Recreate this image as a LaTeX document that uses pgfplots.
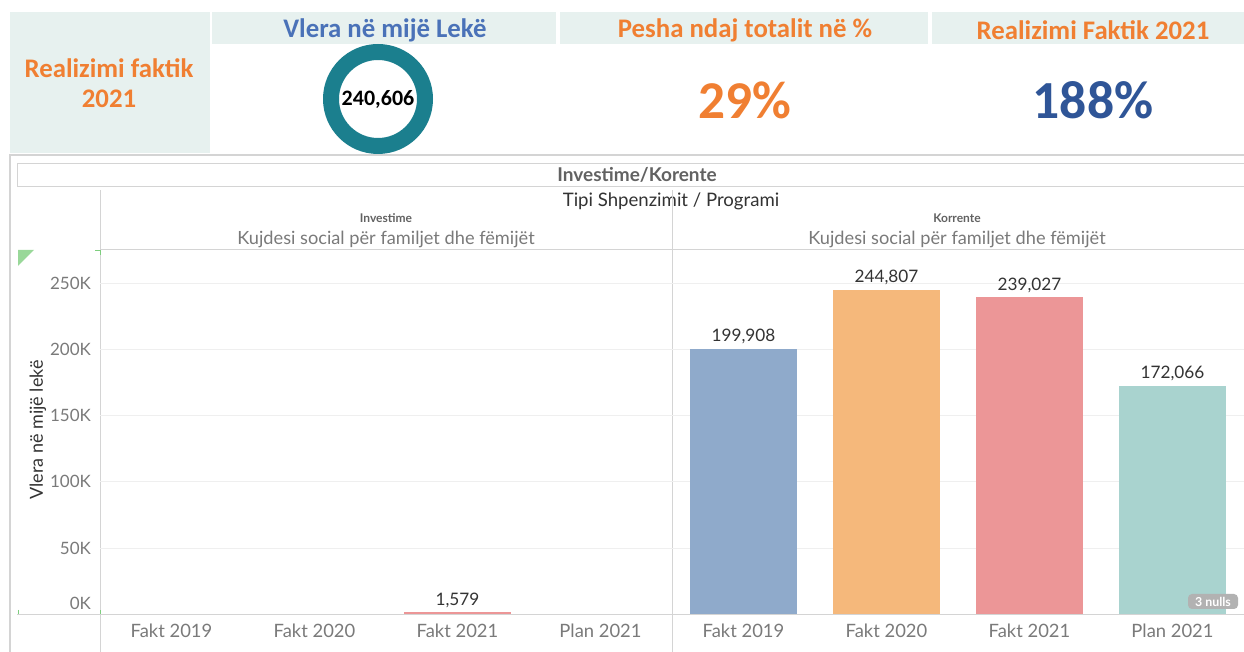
\documentclass[border=0pt]{standalone}
\usepackage{pgfplots}
\pgfplotsset{compat=1.18}
\usepackage{fontspec}
\setmainfont{Lato}
\newfontfamily\hd{Carlito}
\definecolor{mint}{HTML}{E7F1EF}
\definecolor{orng}{HTML}{F07F32}
\definecolor{hblue}{HTML}{4A72B8}
\definecolor{dblue}{HTML}{2F5597}
\definecolor{donut}{HTML}{1B7F8E}
\definecolor{b1}{HTML}{8FAACB}
\definecolor{b2}{HTML}{F5B87B}
\definecolor{b3}{HTML}{EC9697}
\definecolor{b4}{HTML}{A9D3CF}
\definecolor{tk}{HTML}{7A7A7A}
\definecolor{lab}{HTML}{333333}
\definecolor{grd}{HTML}{EFEFEF}
\definecolor{lin}{HTML}{D4D4D4}
\begin{document}
\begin{tikzpicture}[x=0.5pt,y=0.5pt]
\path[use as bounding box, fill=white] (0,0) rectangle (1244,652);
% ---- top KPI panel
\fill[mint] (10,499) rectangle (210,640);
\fill[mint] (212,608) rectangle (556,640);
\fill[mint] (560,608) rectangle (928,640);
\fill[mint] (932,608) rectangle (1244,640);
\node[font=\hd\bfseries\fontsize{13.4}{16}\selectfont, text=hblue] at (385,622) {Vlera në mijë Lekë};
\node[font=\hd\bfseries\fontsize{13.4}{16}\selectfont, text=orng] at (745,622) {Pesha ndaj totalit në \%};
\node[font=\hd\bfseries\fontsize{13.4}{16}\selectfont, text=orng] at (1093,622) {Realizimi Faktik 2021};
\node[font=\hd\bfseries\fontsize{13.4}{16}\selectfont, text=orng] at (109,584) {Realizimi faktik};
\node[font=\hd\bfseries\fontsize{13.4}{16}\selectfont, text=orng] at (109,553) {2021};
\fill[donut, even odd rule] (378,553) circle (27.5pt) circle (19.5pt);
\node[font=\hd\bfseries\fontsize{11}{13}\selectfont, text=black] at (378,553) {240,606};
\node[font=\hd\bfseries\fontsize{26.6}{30}\selectfont, text=orng] at (745,552) {29\%};
\node[font=\hd\bfseries\fontsize{26.8}{30}\selectfont, text=dblue] at (1093,552) {188\%};
% ---- chart frame
\draw[lin, line width=1.2pt] (10,0) -- (10,497) -- (1244,497);
\draw[lin] (17,466) rectangle (1250,489);
\node[font=\bfseries\fontsize{9.5}{11}\selectfont, text=tk!80!black] at (637,477) {Investime/Korente};
\node[font=\fontsize{9.3}{11}\selectfont, text=lab] at (671,451) {Tipi Shpenzimit / Programi};
\draw[lin] (100,0) -- (100,462);
\draw[lin] (672,0) -- (672,462);
\node[font=\bfseries\fontsize{6}{7}\selectfont, text=tk!80!black] at (386,434) {Investime};
\node[font=\fontsize{9.1}{11}\selectfont, text=tk] at (386,413) {Kujdesi social për familjet dhe fëmijët};
\node[font=\bfseries\fontsize{6}{7}\selectfont, text=tk!80!black] at (957,434) {Korrente};
\node[font=\fontsize{9.1}{11}\selectfont, text=tk] at (957,413) {Kujdesi social për familjet dhe fëmijët};
\draw[lin] (100,403) -- (1244,403);
\node[rotate=90, font=\fontsize{9}{11}\selectfont, text=lab] at (38,222) {Vlera në mijë lekë};
% green corner marks
\fill[green!45!gray!55] (18,402) -- (34,402) -- (18,386) -- cycle;
\draw[green!45!gray!70] (18,42) -- (18,37.5) -- (23,37.5);
\draw[green!45!gray!70] (95,37.5) -- (100,37.5) -- (100,42);
\draw[green!45!gray!70] (95,402) -- (100,402) -- (100,397);
% ---- axes
\pgfplotsset{
  panel/.style={
    scale only axis, width=286pt, height=182.75pt,
    xmin=-0.5, xmax=3.5, ymin=0, ymax=275600,
    scaled y ticks=false,
    axis line style={draw=none}, tick style={draw=none},
    ymajorgrids, major grid style={grd},
    ytick={0,50000,100000,150000,200000,250000},
    xtick={0,1,2,3},
    xticklabels={Fakt 2019,Fakt 2020,Fakt 2021,Plan 2021},
    xticklabel style={font=\fontsize{9.2}{11}\selectfont, text=tk, anchor=base, yshift=-7pt},
    ybar, bar width=53.5pt, bar shift=0pt,
    nodes near coords={\pgfmathprintnumber[fixed,precision=0,1000 sep={,},assume math mode=true]{\pgfplotspointmeta}},
    nodes near coords style={font=\fontsize{8.6}{10}\selectfont, text=lab, yshift=-1pt},
    clip=false,
  }
}
\begin{axis}[panel, at={(50pt,18.75pt)}, anchor=south west,
  yticklabels={\raisebox{11.5pt}{0K},50K,100K,150K,200K,250K},
  yticklabel style={font=\fontsize{8.5}{10}\selectfont, text=tk, anchor=east, xshift=-1pt}]
\addplot[fill=b3, draw=none] coordinates {(2,1579)};
\end{axis}
\begin{axis}[panel, at={(336pt,18.75pt)}, anchor=south west, yticklabels={}]
\addplot[fill=b1, draw=none] coordinates {(0,199908)};
\addplot[fill=b2, draw=none] coordinates {(1,244807)};
\addplot[fill=b3, draw=none] coordinates {(2,239027)};
\addplot[fill=b4, draw=none] coordinates {(3,172066)};
\end{axis}
\draw[lin] (17,37.5) -- (1244,37.5);
% nulls badge
\fill[gray!60, rounded corners=2pt] (1188,43) rectangle (1238,58);
\node[font=\bfseries\fontsize{6.2}{7}\selectfont, text=white] at (1213,50.5) {3 nulls};
\end{tikzpicture}
\end{document}
